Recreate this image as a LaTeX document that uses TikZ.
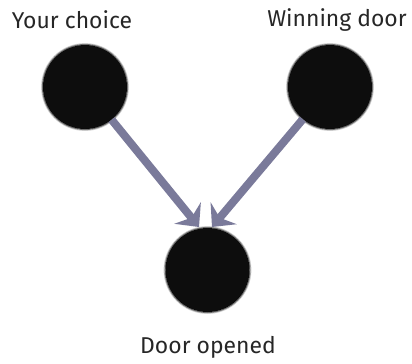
\documentclass[tikz,border=0pt]{standalone}
\usepackage{fontspec}
\setmainfont{Fira Sans}
\usetikzlibrary{arrows.meta}
\definecolor{arrowc}{HTML}{7A7A9A}
\tikzset{
  door/.style={circle, minimum size=84bp, inner sep=0pt, fill=black!95},
  lab/.style={font=\fontsize{23}{26}\selectfont, text=black!85, inner sep=0pt},
  conn/.style={draw=arrowc, line width=8bp, -{Stealth[length=18bp,width=34bp,inset=6bp]}},
}
\begin{document}
\begin{tikzpicture}[x=1bp,y=-1bp]
\useasboundingbox (0,0) rectangle (412,364);
\node[door] (a) at (85,87) {};
\node[door] (b) at (330,87) {};
\node[door] (c) at (207.5,270) {};
\foreach \n in {a,b,c}{
  \draw[black, line width=1.2bp, opacity=0.55] (\n.center) circle (42.4);
  \draw[black, line width=1bp, opacity=0.2] (\n.center) circle (43.4);
}
\coordinate (tl) at (199,227);
\coordinate (tr) at (212,227);
\draw[conn] (a) -- (tl);
\draw[conn] (b) -- (tr);
\node[lab] (la) at (72,20) {Your choice};
\node[lab] (lb) at (337,20) {Winning door};
\node[lab] (lc) at (208,347) {Door opened};
\end{tikzpicture}
\end{document}
